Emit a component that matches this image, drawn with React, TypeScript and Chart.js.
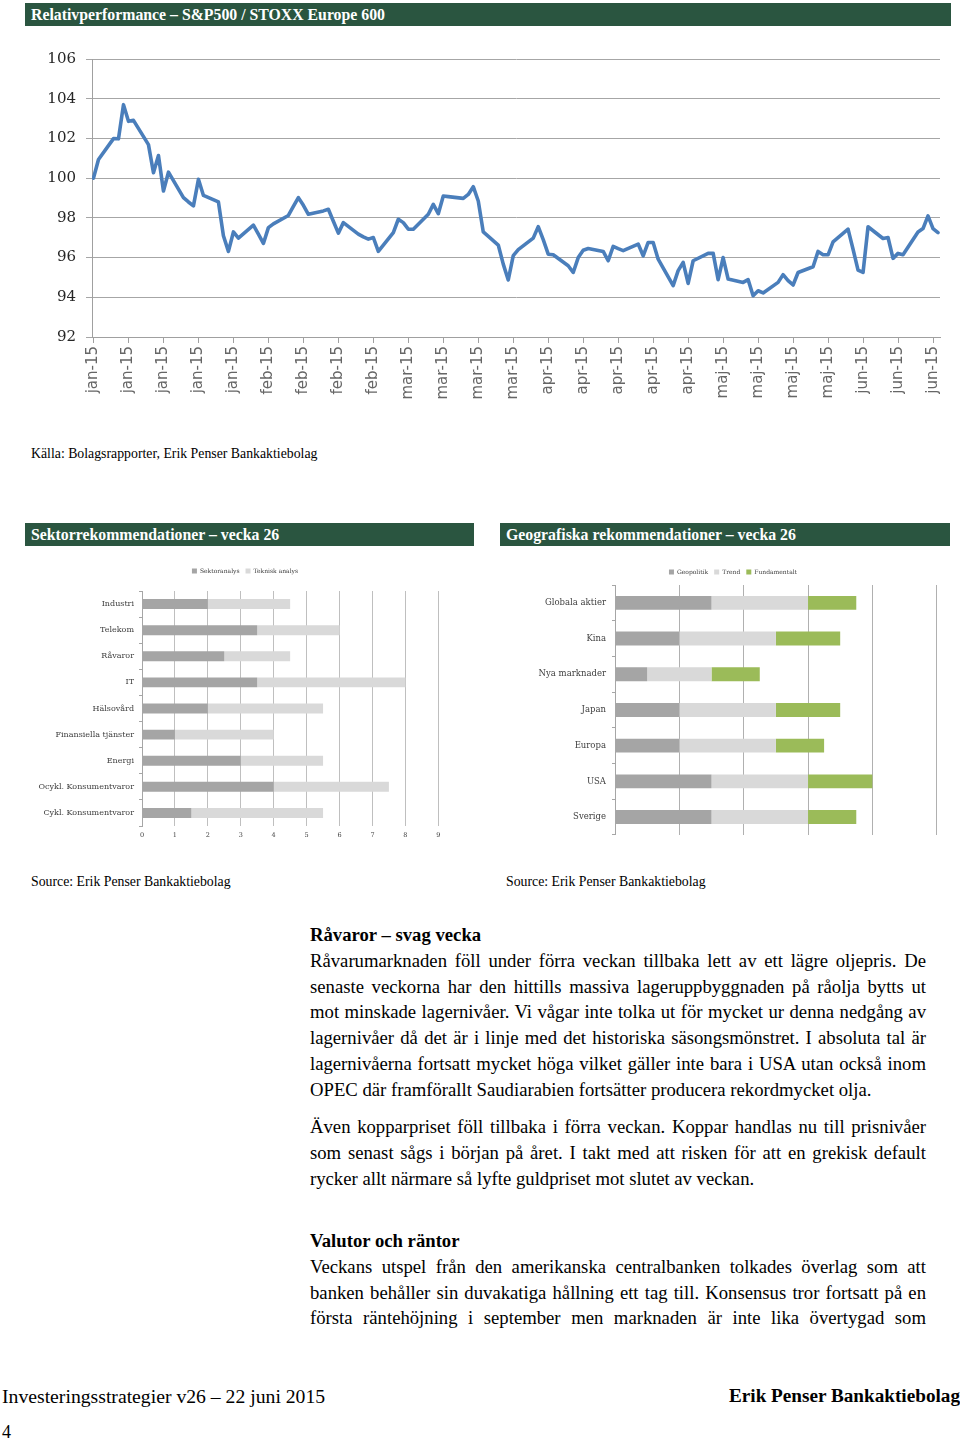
import React, { useEffect, useRef } from 'react';
import { Chart, registerables } from 'chart.js';

Chart.register(...registerables);

// ---------- Relativperformance S&P500 / STOXX Europe 600 (day offset from 1 Jan 2015) ----------
const perfDays = [
  0, 1, 4, 5, 6, 7, 8, 11, 12, 13, 14, 15, 18, 19, 20, 21, 22, 25, 26, 27, 28, 29,
  32, 33, 34, 35, 36, 39, 40, 41, 42, 43, 46, 47, 48, 49, 50, 53, 54, 55, 56, 57,
  60, 61, 62, 63, 64, 67, 68, 69, 70, 71, 74, 75, 76, 77, 78, 81, 82, 83, 84, 85,
  88, 89, 90, 91, 92, 95, 96, 97, 98, 99, 102, 103, 104, 105, 106, 109, 110, 111, 112, 113,
  116, 117, 118, 119, 120, 123, 124, 125, 126, 127, 130, 131, 132, 133, 134, 137, 138, 139, 140, 141,
  144, 145, 146, 147, 148, 151, 152, 153, 154, 155, 158, 159, 160, 161, 162, 165, 166, 167, 168, 169,
];
const perfValues = [
  100.0, 100.94, 101.99, 101.98, 103.7, 102.86, 102.91, 101.69, 100.27, 101.14, 99.35, 100.3, 99.02, 98.8, 98.6, 99.94, 99.13, 98.8, 97.1, 96.31, 97.29, 96.98,
  97.63, 97.18, 96.71, 97.51, 97.7, 98.12, 98.58, 99.02, 98.63, 98.18, 98.35, 98.43, 97.83, 97.23, 97.76, 97.18, 97.04, 96.93, 97.01, 96.31,
  97.26, 97.93, 97.76, 97.43, 97.43, 98.18, 98.68, 98.21, 99.1, 99.07, 98.98, 99.18, 99.57, 98.85, 97.29, 96.63, 95.67, 94.87, 96.1, 96.4,
  96.98, 97.56, 96.9, 96.17, 96.14, 95.59, 95.25, 96.0, 96.37, 96.46, 96.31, 95.84, 96.56, 96.45, 96.35, 96.68, 96.09, 96.76, 96.76, 95.92,
  94.59, 95.34, 95.76, 94.7, 95.84, 96.21, 96.22, 94.89, 96.0, 94.92, 94.75, 94.89, 94.08, 94.33, 94.22, 94.75, 95.14, 94.84, 94.62, 95.25,
  95.54, 96.31, 96.14, 96.14, 96.79, 97.43, 96.42, 95.37, 95.25, 97.55, 96.96, 97.01, 95.96, 96.21, 96.14, 97.29, 97.46, 98.1, 97.46, 97.26,
];
const weekTickLabels = [
  'jan-15', 'jan-15', 'jan-15', 'jan-15', 'jan-15',
  'feb-15', 'feb-15', 'feb-15', 'feb-15',
  'mar-15', 'mar-15', 'mar-15', 'mar-15',
  'apr-15', 'apr-15', 'apr-15', 'apr-15', 'apr-15',
  'maj-15', 'maj-15', 'maj-15', 'maj-15',
  'jun-15', 'jun-15', 'jun-15',
];
const perfYMin = 92;
const perfYMax = 106;

// ---------- Sektorrekommendationer ----------
const sectorCategories = [
  'Industri', 'Telekom', 'Råvaror', 'IT', 'Hälsovård', 'Finansiella tjänster', 'Energi',
  'Ocykl. Konsumentvaror', 'Cykl. Konsumentvaror',
];
const sektoranalys = [2, 3.5, 2.5, 3.5, 2, 1, 3, 4, 1.5];
const tekniskAnalys = [2.5, 2.5, 2, 4.5, 3.5, 3, 2.5, 3.5, 4];

// ---------- Geografiska rekommendationer ----------
const geoCategories = ['Globala aktier', 'Kina', 'Nya marknader', 'Japan', 'Europa', 'USA', 'Sverige'];
const geopolitik = [3, 2, 1, 2, 2, 3, 3];
const trend = [3, 3, 2, 3, 3, 3, 3];
const fundamentalt = [1.5, 2, 1.5, 2, 1.5, 2, 1.5];

// ---------- Text ----------
const para1 = [
  'Råvarumarknaden föll under förra veckan tillbaka lett av ett lägre oljepris. De',
  'senaste veckorna har den hittills massiva lageruppbyggnaden på råolja bytts ut',
  'mot minskade lagernivåer. Vi vågar inte tolka ut för mycket ur denna nedgång av',
  'lagernivåer då det är i linje med det historiska säsongsmönstret. I absoluta tal är',
  'lagernivåerna fortsatt mycket höga vilket gäller inte bara i USA utan också inom',
  'OPEC där framförallt Saudiarabien fortsätter producera rekordmycket olja.',
];
const para2 = [
  'Även kopparpriset föll tillbaka i förra veckan. Koppar handlas nu till prisnivåer',
  'som senast sågs i början på året. I takt med att risken för att en grekisk default',
  'rycker allt närmare så lyfte guldpriset mot slutet av veckan.',
];
const para3 = [
  'Veckans utspel från den amerikanska centralbanken tolkades överlag som att',
  'banken behåller sin duvakatiga hållning ett tag till. Konsensus tror fortsatt på en',
  'första räntehöjning i september men marknaden är inte lika övertygad som',
];

const SERIF = '"Liberation Serif", "Times New Roman", serif';
const CHART_SERIF = '"DejaVu Serif", serif';
const GREEN = '#2a5540';

// lets long category labels extend left of the padded axis box instead of being clipped
const unclipLabels = {
  id: 'unclipLabels',
  afterLayout(chart: any) {
    if (chart.scales.y) chart.scales.y.left = 0;
  },
};

function ChartCanvas({ left, top, width, height, makeConfig }: any) {
  const ref = useRef<HTMLCanvasElement | null>(null);
  useEffect(() => {
    if (!ref.current) return;
    const chart = new Chart(ref.current, makeConfig());
    return () => chart.destroy();
  }, []);
  return (
    <canvas
      ref={ref}
      width={width}
      height={height}
      style={{ position: 'absolute', left, top, width, height, display: 'block' }}
    />
  );
}

const lineConfig = (): any => ({
  type: 'line',
  data: {
    datasets: [
      {
        data: perfDays.map((d, i) => ({ x: d, y: perfValues[i] })),
        borderColor: '#4a7ebb',
        borderWidth: 3.6,
        pointRadius: 0,
        tension: 0,
        fill: false,
        borderJoinStyle: 'round',
        borderCapStyle: 'round',
      },
    ],
  },
  options: {
    responsive: false,
    animation: false,
    layout: { padding: { top: 19, right: 20, left: 0, bottom: 0 } },
    plugins: { legend: { display: false }, tooltip: { enabled: false } },
    scales: {
      x: {
        type: 'linear',
        min: -0.3,
        max: 169.4,
        ticks: {
          stepSize: 7,
          autoSkip: false,
          includeBounds: false,
          minRotation: 90,
          maxRotation: 90,
          padding: 3,
          color: '#666666',
          font: { family: '"DejaVu Sans", sans-serif', size: 15 },
          callback: (v: number) => {
            const i = Math.round(v / 7);
            return Math.abs(v - i * 7) < 1e-6 && weekTickLabels[i] ? weekTickLabels[i] : '';
          },
        },
        afterBuildTicks: (s: any) => {
          s.ticks = weekTickLabels.map((_, i) => ({ value: i * 7 }));
        },
        grid: { drawOnChartArea: false, tickLength: 6, color: '#a0a0a0' },
        border: { color: '#a0a0a0' },
        afterFit: (s: any) => { s.height = 83; },
      },
      y: {
        min: perfYMin,
        max: perfYMax,
        ticks: {
          stepSize: 2,
          padding: 10,
          color: '#262626',
          font: { family: CHART_SERIF, size: 15 },
        },
        grid: { color: '#a6a6a6', tickLength: 6 },
        border: { color: '#a0a0a0' },
        afterFit: (s: any) => { s.width = 92; },
      },
    },
  },
});

const sectorConfig = (): any => ({
  type: 'bar',
  data: {
    labels: sectorCategories,
    datasets: [
      { label: 'Sektoranalys', data: sektoranalys, backgroundColor: '#a5a5a5', barPercentage: 0.38, categoryPercentage: 1, xAxisID: 'x', yAxisID: 'y' },
      { label: 'Teknisk analys', data: tekniskAnalys, backgroundColor: '#d9d9d9', barPercentage: 0.38, categoryPercentage: 1, xAxisID: 'x', yAxisID: 'y' },
    ],
  },
  plugins: [unclipLabels],
  options: {
    indexAxis: 'y',
    responsive: false,
    animation: false,
    layout: { padding: { top: 0, right: 26.7, left: 26.7, bottom: 0 } },
    plugins: {
      legend: {
        position: 'top',
        labels: { font: { family: CHART_SERIF, size: 6 }, color: '#404040', boxWidth: 5, boxHeight: 5, padding: 6 },
      },
      tooltip: { enabled: false },
    },
    scales: {
      x: {
        stacked: true,
        min: 0,
        max: 9,
        ticks: { stepSize: 1, padding: 5, color: '#404040', font: { family: CHART_SERIF, size: 6.5 } },
        grid: { color: '#bfbfbf', drawTicks: false },
        border: { display: false },
        afterFit: (s: any) => { s.height = 19; },
      },
      y: {
        stacked: true,
        ticks: { padding: 5, color: '#404040', font: { family: CHART_SERIF, size: 8 } },
        grid: { drawOnChartArea: false, offset: true, tickLength: 3, color: '#a6a6a6' },
        border: { color: '#a6a6a6' },
        afterFit: (s: any) => { s.width = 90.3; },
      },
      pad: {
        type: 'linear',
        position: 'top',
        display: true,
        ticks: { display: false },
        grid: { display: false },
        border: { display: false },
        afterFit: (s: any) => { s.height = 7; },
      },
    },
  },
});

const geoConfig = (): any => ({
  type: 'bar',
  data: {
    labels: geoCategories,
    datasets: [
      { label: 'Geopolitik', data: geopolitik, backgroundColor: '#a5a5a5', barPercentage: 0.39, categoryPercentage: 1 },
      { label: 'Trend', data: trend, backgroundColor: '#d9d9d9', barPercentage: 0.39, categoryPercentage: 1 },
      { label: 'Fundamentalt', data: fundamentalt, backgroundColor: '#9bbb59', barPercentage: 0.39, categoryPercentage: 1 },
    ],
  },
  plugins: [unclipLabels],
  options: {
    indexAxis: 'y',
    responsive: false,
    animation: false,
    layout: { padding: { top: 0, right: 13.3, left: 21.3, bottom: 0 } },
    plugins: {
      legend: {
        position: 'top',
        labels: { font: { family: CHART_SERIF, size: 6 }, color: '#404040', boxWidth: 5, boxHeight: 5, padding: 6 },
      },
      tooltip: { enabled: false },
    },
    scales: {
      x: {
        stacked: true,
        min: 0,
        max: 10,
        ticks: { stepSize: 2, display: false },
        grid: { color: '#b0b0b0', drawTicks: false },
        border: { display: false },
        afterFit: (s: any) => { s.height = 0; },
      },
      y: {
        stacked: true,
        ticks: { padding: 6, color: '#404040', font: { family: CHART_SERIF, size: 8.5 } },
        grid: { drawOnChartArea: false, offset: true, tickLength: 3, color: '#a6a6a6' },
        border: { color: '#a6a6a6' },
        afterFit: (s: any) => { s.width = 85.7; },
      },
    },
  },
});

function Bar({ left, top, width, text }: any) {
  return (
    <div
      style={{
        position: 'absolute', left, top, width, height: 23, background: GREEN, color: '#fff',
        fontFamily: SERIF, fontWeight: 700, fontSize: 15.8, lineHeight: '23px', paddingLeft: 6,
        boxSizing: 'border-box', whiteSpace: 'nowrap',
      }}
    >
      {text}
    </div>
  );
}

function TextLine({ top, text, justify, bold }: any) {
  return (
    <div
      style={{
        position: 'absolute', left: 310, top, width: 616, height: 25.8, lineHeight: '25.8px',
        fontFamily: SERIF, fontSize: 18.7, whiteSpace: 'nowrap', color: '#000',
        textAlign: justify ? 'justify' : 'left', textAlignLast: justify ? 'justify' : 'left',
        fontWeight: bold ? 700 : 400,
      } as any}
    >
      {text}
    </div>
  );
}

function Paragraph({ top, lines, justifyLast }: any) {
  return (
    <>
      {lines.map((l: string, i: number) => (
        <TextLine key={i} top={top + i * 25.8} text={l} justify={i < lines.length - 1 || justifyLast} />
      ))}
    </>
  );
}

export default function App() {
  useEffect(() => {
    document.body.style.margin = '0';
  }, []);
  const small = { position: 'absolute', fontFamily: SERIF, fontSize: 13.8, lineHeight: '16px', whiteSpace: 'nowrap', color: '#000' } as any;
  return (
    <div style={{ position: 'absolute', left: 0, top: 0, width: 960, height: 1442, background: '#fff', overflow: 'hidden' }}>
      <Bar left={25} top={3} width={926} text="Relativperformance – S&P500 / STOXX Europe 600" />
      <ChartCanvas left={0} top={40} width={960} height={380} makeConfig={lineConfig} />
      <div style={{ ...small, left: 31, top: 446 }}>Källa: Bolagsrapporter, Erik Penser Bankaktiebolag</div>

      <Bar left={25} top={523} width={449} text="Sektorrekommendationer – vecka 26" />
      <Bar left={500} top={523} width={450} text="Geografiska rekommendationer – vecka 26" />
      <ChartCanvas left={25} top={562} width={440} height={283} makeConfig={sectorConfig} />
      <ChartCanvas left={508} top={563} width={442} height={283} makeConfig={geoConfig} />
      <div style={{ ...small, left: 31, top: 874 }}>Source: Erik Penser Bankaktiebolag</div>
      <div style={{ ...small, left: 506, top: 874 }}>Source: Erik Penser Bankaktiebolag</div>

      <TextLine top={922} text="Råvaror – svag vecka" bold />
      <Paragraph top={947.8} lines={para1} />
      <Paragraph top={1114} lines={para2} />
      <TextLine top={1228} text="Valutor och räntor" bold />
      <Paragraph top={1253.8} lines={para3} justifyLast />

      <div style={{ position: 'absolute', left: 2, top: 1384, fontFamily: SERIF, fontSize: 19.7, lineHeight: '24px', whiteSpace: 'nowrap' }}>
        Investeringsstrategier v26 – 22 juni 2015
      </div>
      <div style={{ position: 'absolute', right: 0, top: 1384, fontFamily: SERIF, fontSize: 19.2, fontWeight: 700, lineHeight: '24px', whiteSpace: 'nowrap' }}>
        Erik Penser Bankaktiebolag
      </div>
      <div style={{ position: 'absolute', left: 2, top: 1420, fontFamily: SERIF, fontSize: 18, lineHeight: '24px' }}>4</div>
    </div>
  );
}
